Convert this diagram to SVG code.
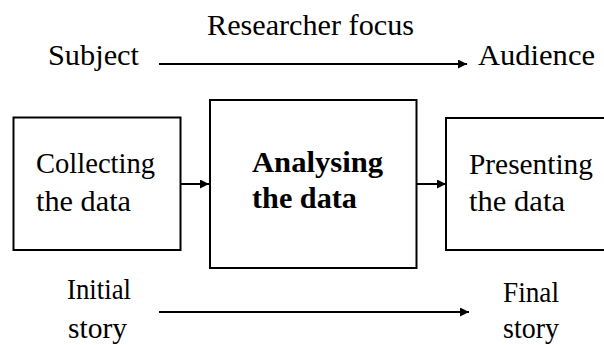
<svg xmlns="http://www.w3.org/2000/svg" width="604" height="345" viewBox="0 0 604 345">
  <style>
    .bold { font-weight: bold; }
    .box { fill: #fff; stroke: #000; stroke-width: 2; }
    .conn { stroke: #000; stroke-width: 2; fill: none; marker-end: url(#head); }
  </style>
  <defs>
    <marker id="head" viewBox="0 0 10 10" refX="10" refY="5" markerWidth="9" markerHeight="9" markerUnits="userSpaceOnUse" orient="auto">
      <path d="M0,0 L10,5 L0,10 z" fill="#000"/>
    </marker>
  </defs>
  <rect width="604" height="345" fill="#fff"/>

  <g id="connectors">
    <line class="conn" x1="159" y1="64" x2="467" y2="64"/>
    <line class="conn" x1="181" y1="184" x2="209" y2="184"/>
    <line class="conn" x1="417" y1="184" x2="446" y2="184"/>
    <line class="conn" x1="159" y1="312" x2="469" y2="312"/>
  </g>

  <!-- all labels share one serif face -->
  <g font-family="Liberation Serif, DejaVu Serif, serif" font-size="29" fill="#000">
    <g id="label-focus">
      <text x="207" y="35" textLength="207" lengthAdjust="spacingAndGlyphs">Researcher focus</text>
    </g>
    <g id="subject">
      <text x="48" y="65" textLength="91" lengthAdjust="spacingAndGlyphs">Subject</text>
    </g>
    <g id="audience">
      <text x="478" y="65" textLength="117" lengthAdjust="spacingAndGlyphs">Audience</text>
    </g>

    <g id="collecting">
      <rect class="box" x="13.5" y="117.5" width="167" height="132.5"/>
      <text x="36" y="173" textLength="119" lengthAdjust="spacingAndGlyphs">Collecting</text>
      <text x="36" y="211" textLength="95" lengthAdjust="spacingAndGlyphs">the data</text>
    </g>

    <g id="analysing">
      <rect class="box" x="210" y="100" width="206.5" height="168"/>
      <text class="bold" x="252" y="172" textLength="131" lengthAdjust="spacingAndGlyphs">Analysing</text>
      <text class="bold" x="252" y="208" textLength="105" lengthAdjust="spacingAndGlyphs">the data</text>
    </g>

    <g id="presenting">
      <rect class="box" x="446" y="118" width="172" height="132"/>
      <text x="469" y="174" textLength="124" lengthAdjust="spacingAndGlyphs">Presenting</text>
      <text x="469" y="211" textLength="96" lengthAdjust="spacingAndGlyphs">the data</text>
    </g>

    <g id="initial-story">
      <text x="67" y="299" textLength="64" lengthAdjust="spacingAndGlyphs">Initial</text>
      <text x="68" y="338" textLength="59" lengthAdjust="spacingAndGlyphs">story</text>
    </g>
    <g id="final-story">
      <text x="503" y="302" textLength="56" lengthAdjust="spacingAndGlyphs">Final</text>
      <text x="503" y="338" textLength="56" lengthAdjust="spacingAndGlyphs">story</text>
    </g>
  </g>
</svg>
